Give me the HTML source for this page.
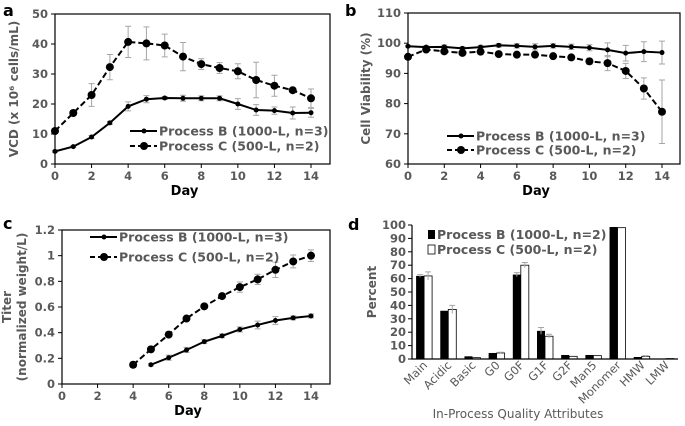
<!DOCTYPE html>
<html><head><meta charset="utf-8"><style>
body{margin:0;background:#fff}
svg{display:block;font-family:"DejaVu Sans","Liberation Sans",sans-serif;font-weight:bold}
.tk{fill:#595959;font-size:11.5px}
.at{fill:#595959;font-size:12px}
.lg{fill:#595959;font-size:12.5px}
</style></head><body>
<svg id="s" width="685" height="426" viewBox="0 0 685 426"></svg>
<script>
const days=[0,1,2,3,4,5,6,7,8,9,10,11,12,13,14];
const vcdB=[4.2,5.8,9,13.7,19.2,21.6,22,21.9,21.9,21.9,20,18,17.8,17,17.1];
const vcdBErr=[0.3,0.3,0.5,0.5,1.5,1.2,0.5,1,0.8,0.8,1.8,1.8,1.2,2,1.5];
const vcdC=[11,17,23,32.3,40.7,40.2,39.5,35.8,33.3,32,30.9,28,26.1,24.6,21.9];
const vcdCErr=[0.3,0.5,3.8,4.2,5.2,5.5,3.8,4.7,1.8,1.8,2.5,5.9,3.5,0.3,3.1];
const viaB=[99,98.7,98.8,98.3,98.7,99.3,99.1,98.8,99.1,98.8,98.5,97.8,96.7,97.2,96.9];
const viaBErr=[0.3,0.5,0.6,0.5,0.6,0.6,0.7,1,0.7,0.9,1,2.3,2.6,3.3,3.8];
const viaC=[95.5,97.9,97.3,96.8,97.2,96.4,96.2,96.2,95.7,95.3,94,93.4,90.8,85,77.3];
const viaCErr=[0.3,0.5,0.5,0.5,0.5,0.5,0.5,0.5,0.5,0.5,1,2.5,2.5,3.5,10.5];
const titDaysB=[5,6,7,8,9,10,11,12,13,14];
const titB=[0.15,0.205,0.265,0.33,0.375,0.425,0.46,0.495,0.515,0.53];
const titBErr=[0.01,0.02,0.02,0.015,0.015,0.02,0.03,0.03,0.015,0.015];
const titDaysC=[4,5,6,7,8,9,10,11,12,13,14];
const titC=[0.15,0.27,0.385,0.51,0.605,0.685,0.755,0.815,0.89,0.955,1.0];
const titCErr=[0.02,0.02,0.02,0.015,0.015,0.015,0.04,0.04,0.06,0.05,0.045];
const attrs=["Main","Acidic","Basic","G0","G0F","G1F","G2F","Man5","Monomer","HMW","LMW"];
const barB=[62,36,2,4.5,63,21,3,3,98.5,1.5,0.3];
const barBErr=[1,0,0,0,1.5,2.5,0,0,0,0,0];
const barC=[62,37,1,4.5,70,17,2,2.5,98,2,0.3];
const barCErr=[3,3,0,0.5,2,1.5,0,0,0,0.5,0];

const S=document.getElementById('s');
const NS='http://www.w3.org/2000/svg';
function el(t,a,txt){const e=document.createElementNS(NS,t);for(const k in a)e.setAttribute(k,a[k]);if(txt!==undefined)e.textContent=txt;S.appendChild(e);return e;}
function lin(d0,d1,r0,r1){return v=>r0+(v-d0)/(d1-d0)*(r1-r0);}

function linePanel(o){
  const X=lin(0,14,o.x0,o.x14),Y=lin(o.ymin,o.ymax,o.bot,o.top);
  let r=el('rect',{x:o.L,y:o.top,width:o.R-o.L,height:o.bot-o.top,fill:'none',stroke:'#000','stroke-width':1.2});
  
  for(let v=o.ymin;v<=o.ymax+1e-9;v+=o.ystep){
    const y=Y(v);
    let t=el('line',{x1:o.L-4,x2:o.L,y1:y,y2:y,stroke:'#000'});
    let l=el('text',{x:o.L-7,y:y+4,'text-anchor':'end',class:'tk'},o.fmt(v));
  }
  for(let d=0;d<=14;d+=2){
    const x=X(d);
    let t=el('line',{x1:x,x2:x,y1:o.bot,y2:o.bot+4,stroke:'#000'});
    let l=el('text',{x:x,y:o.bot+16,'text-anchor':'middle',class:'tk'},d);
  }
  let xt=el('text',{x:(o.L+o.R)/2-8,y:o.bot+31,'text-anchor':'middle','font-size':13,fill:'#000'},'Day');
  o.series.forEach(s=>{
    s.err.forEach((e,i)=>{const x=X(s.d[i]);
      let b=el('path',{d:`M${x} ${Y(s.v[i]-e)}V${Y(s.v[i]+e)}M${x-3} ${Y(s.v[i]-e)}h6M${x-3} ${Y(s.v[i]+e)}h6`,stroke:'#a6a6a6',fill:'none'});
      });
    let p=el('polyline',{points:s.v.map((v,i)=>X(s.d[i])+','+Y(v)).join(' '),fill:'none',stroke:'#000','stroke-width':2,'stroke-dasharray':s.dash?'6,3':'none'});
    
    s.v.forEach((v,i)=>{let c=el('circle',{cx:X(s.d[i]),cy:Y(v),r:s.r,fill:'#000'});});
  });
  o.leg.forEach((g,i)=>{
    let l=el('line',{x1:o.lx,x2:o.lx+27,y1:g.y,y2:g.y,stroke:'#000','stroke-width':2,'stroke-dasharray':g.dash?'5,3':'none'});
    let c=el('circle',{cx:o.lx+14,cy:g.y,r:g.r,fill:'#000'});
    let t=el('text',{x:o.lx+29,y:g.y+4.5,class:'lg'},g.t);
  });
  let lt=el('text',{x:o.letX,y:o.letY,'font-size':16,fill:'#000'},o.n);
  let yt=el('text',{transform:`translate(${o.ytx},${(o.top+o.bot)/2}) rotate(-90)`,'text-anchor':'middle',class:'at'});
  
  o.ytitle.forEach((s,i)=>{const ts=document.createElementNS(NS,'tspan');ts.setAttribute('x',0);ts.setAttribute('dy',i?15:0);ts.textContent=s;yt.appendChild(ts);});
}
const LB='Process B (1000-L, n=3)',LC='Process C (500-L, n=2)';
linePanel({n:'a',L:55,R:330,top:14,bot:164,x0:55,x14:311,ymin:0,ymax:50,ystep:10,fmt:v=>v,
  series:[{name:'process-b',d:days,v:vcdB,err:vcdBErr,r:2.5},{name:'process-c',d:days,v:vcdC,err:vcdCErr,r:4,dash:true}],
  lx:130,leg:[{y:131,t:LB,r:2.5},{y:146,t:LC,r:4,dash:true}],letX:3,letY:16,ytx:18,ytitle:['VCD (x 10\u2076 cells/mL)']});
linePanel({n:'b',L:408,R:680,top:13,bot:164,x0:408,x14:662,ymin:60,ymax:110,ystep:10,fmt:v=>v,
  series:[{name:'process-b',d:days,v:viaB,err:viaBErr,r:2.5},{name:'process-c',d:days,v:viaC,err:viaCErr,r:4,dash:true}],
  lx:447,leg:[{y:136,t:LB,r:2.5},{y:150,t:LC,r:4,dash:true}],letX:345,letY:16,ytx:370,ytitle:['Cell Viability (%)']});
linePanel({n:'c',L:62,R:330,top:230,bot:384,x0:62,x14:311,ymin:0,ymax:1.2,ystep:0.2,fmt:v=>+v.toFixed(1)+'',
  series:[{name:'process-b',d:titDaysB,v:titB,err:titBErr,r:2.5},{name:'process-c',d:titDaysC,v:titC,err:titCErr,r:4,dash:true}],
  lx:90,leg:[{y:237,t:LB,r:2.5},{y:257,t:LC,r:4,dash:true}],letX:3,letY:229,ytx:11,ytitle:['Titer','(normalized weight/L)']});

// panel d
(function(){
  const L=412,R=678,top=225,bot=359;
  const Y=lin(0,100,bot,top),cw=(R-L)/attrs.length,bw=8;
  for(let v=0;v<=100;v+=10){const y=Y(v);
    let t=el('line',{x1:L-4,x2:L,y1:y,y2:y,stroke:'#000'});
    let l=el('text',{x:L-6,y:y+4,'text-anchor':'end',class:'tk'},v);}
  attrs.forEach((a,i)=>{const cx=L+cw*(i+0.5);
    let b=el('rect',{x:cx-bw,y:Y(barB[i]),width:bw,height:bot-Y(barB[i]),fill:'#000'});
    let c=el('rect',{x:cx,y:Y(barC[i]),width:bw,height:bot-Y(barC[i]),fill:'#fff',stroke:'#000','stroke-width':0.8});
    [[barB,barBErr,cx-bw/2],[barC,barCErr,cx+bw/2]].forEach(([v,e,x])=>{if(e[i]>0){
      let eb=el('path',{d:`M${x} ${Y(v[i]-e[i])}V${Y(v[i]+e[i])}M${x-3} ${Y(v[i]+e[i])}h6`,stroke:'#a6a6a6',fill:'none'});}});
    let l=el('text',{transform:`translate(${cx+4},${bot+7}) rotate(-45)`,'text-anchor':'end',class:'tk','font-weight':'normal','font-size':'11px'},a);
  });
  let ax=el('path',{d:`M${L} ${top}V${bot}H${R}`,stroke:'#000',fill:'none','stroke-width':1.2});
  let xt=el('text',{x:518,y:418,'text-anchor':'middle',class:'at','font-weight':'normal','font-size':'13px'},'In-Process Quality Attributes');
  let yt=el('text',{transform:`translate(376,${(top+bot)/2}) rotate(-90)`,'text-anchor':'middle',class:'at'},'Percent');
  let s1=el('rect',{x:428,y:230,width:7,height:9,fill:'#000'});
  let t1=el('text',{x:437,y:239,class:'lg'},'Process B (1000-L, n=2)');
  let s2=el('rect',{x:428,y:245,width:7,height:9,fill:'#fff',stroke:'#000','stroke-width':0.8});
  let t2=el('text',{x:437,y:254,class:'lg'},'Process C (500-L, n=2)');
  let lt=el('text',{x:348,y:230,'font-size':16,fill:'#000'},'d');
})();
</script>
</body></html>
